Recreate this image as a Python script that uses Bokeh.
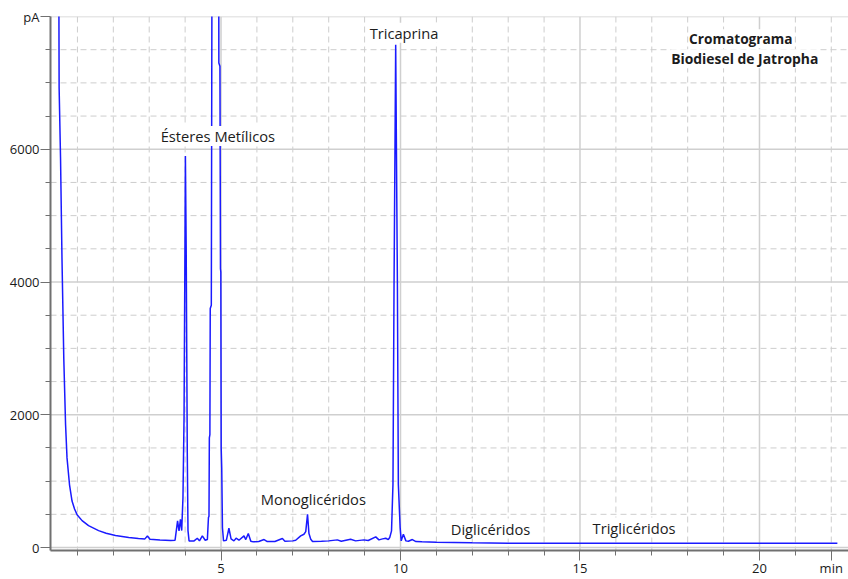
from bokeh.plotting import figure
from bokeh.models import Range1d, FixedTicker, Label, ColumnDataSource, Span
from bokeh.embed import file_html
from bokeh.resources import INLINE

# Retention time (min) and detector signal (pA)
time_min = [0.48, 0.49, 0.53, 0.57, 0.62, 0.67, 0.71, 0.78, 0.85, 0.92, 0.99, 1.13, 1.31, 1.59, 1.80,
            2.06, 2.43, 2.70, 2.88, 2.95, 3.02, 3.30, 3.60, 3.72, 3.79, 3.83, 3.87, 3.905, 3.94, 3.97,
            3.99, 4.008, 4.03, 4.045, 4.06, 4.08, 4.11, 4.25, 4.34, 4.40, 4.48, 4.56, 4.62, 4.65,
            4.665, 4.675, 4.69, 4.70, 4.73, 4.76, 4.93, 4.94, 4.97, 4.985, 4.995, 5.005, 5.02, 5.04,
            5.07, 5.15, 5.22, 5.28, 5.36, 5.42, 5.50, 5.64, 5.69, 5.76, 5.83, 5.90, 6.05, 6.20, 6.29,
            6.50, 6.71, 6.78, 7.00, 7.08, 7.22, 7.31, 7.36, 7.41, 7.45, 7.50, 7.55, 7.80, 8.00, 8.24,
            8.35, 8.61, 8.75, 8.98, 9.10, 9.31, 9.40, 9.50, 9.59, 9.66, 9.70, 9.75, 9.79, 9.82, 9.866,
            9.914, 9.94, 9.99, 10.02, 10.08, 10.15, 10.22, 10.33, 10.43, 10.60, 11.0, 11.5, 12.0,
            13.0, 14.0, 15.0, 16.0, 18.0, 20.0, 22.17]
signal_pA = [9000, 6930, 5850, 4350, 2850, 1850, 1350, 945, 700, 580, 495, 405, 330, 255, 215,
             180, 150, 135, 130, 175, 125, 115, 105, 110, 400, 250, 425, 255, 750, 1950,
             3950, 5900, 4500, 3000, 1450, 255, 100, 100, 140, 100, 175, 110, 120, 450,
             470, 1650, 1700, 3600, 3650, 12000, 12000, 7300, 7250, 4200, 4150, 1500, 1200, 300,
             100, 110, 290, 130, 100, 140, 110, 175, 120, 210, 95, 85, 90, 120, 90,
             90, 135, 95, 100, 110, 175, 200, 240, 500, 210, 125, 90, 95, 100, 115,
             95, 125, 100, 115, 105, 160, 115, 130, 140, 120, 150, 250, 950, 3950, 7575,
             3950, 950, 300, 100, 200, 100, 95, 120, 90, 85, 80, 75, 70,
             65, 65, 65, 65, 65, 65, 65]

x_major = [5, 10, 15, 20]
x_minor = [1, 2, 3, 4, 6, 7, 8, 9, 11, 12, 13, 14, 16, 17, 18, 19, 21, 22]
y_major = [0, 2000, 4000, 6000, 8000]
y_minor = [500, 1000, 1500, 2500, 3000, 3500, 4500, 5000, 5500, 6500, 7000, 7500]

src = ColumnDataSource(data=dict(t=time_min, s=signal_pA))

p = figure(width=848, height=579, x_range=Range1d(0.25, 22.48), y_range=Range1d(-45, 8000),
           output_backend="svg", toolbar_location=None,
           min_border_left=50, min_border_right=0, min_border_top=16, min_border_bottom=24)
p.outline_line_color = None
p.background_fill_color = "white"
p.border_fill_color = "white"
p.xgrid.visible = False
p.ygrid.visible = False

# axes
p.xaxis.ticker = FixedTicker(ticks=x_major + [22], minor_ticks=x_minor)
p.xaxis.major_label_overrides = {22: "min"}
p.yaxis.ticker = FixedTicker(ticks=y_major, minor_ticks=y_minor)
p.yaxis.major_label_overrides = {8000: "pA"}
for ax in (p.xaxis[0], p.yaxis[0]):
    ax.axis_line_color = "#707070"
    ax.axis_line_width = 2
    ax.major_tick_line_color = "#707070"
    ax.minor_tick_line_color = "#707070"
    ax.major_tick_out = 10
    ax.major_tick_in = 0
    ax.minor_tick_out = 5
    ax.minor_tick_in = 0
    ax.major_label_text_font = "Open Sans"
    ax.major_label_text_font_size = "13px"
    ax.major_label_text_color = "#1a1a1a"
p.yaxis.major_label_standoff = 1
p.xaxis.major_label_standoff = -2

# grid lines (solid on major ticks, dashed on minor ticks)
for v in x_major:
    p.add_layout(Span(location=v, dimension="height", line_color="#cfcfcf", line_width=1.5, level="underlay"))
for v in x_minor:
    p.add_layout(Span(location=v, dimension="height", line_color="#cdcdcd", line_width=1,
                      line_dash="6 4", level="underlay"))
for v in y_major:
    p.add_layout(Span(location=v, dimension="width", line_color="#cfcfcf", line_width=1.5, level="underlay"))
for v in y_minor:
    p.add_layout(Span(location=v, dimension="width", line_color="#cdcdcd", line_width=1,
                      line_dash="6 4", level="underlay"))

p.line("t", "s", source=src, line_color="#1a1aff", line_width=1.5)

lab_font = "Open Sans"
def add_label(text, x, y, align="left", bold=False, size="14.7px"):
    p.add_layout(Label(x=x, y=y, text=text, text_font=lab_font, text_font_size=size,
                       text_align=align, text_baseline="middle", text_color="#1c1c1c",
                       text_font_style="bold" if bold else "normal",
                       background_fill_color="white"))

add_label("Ésteres Metílicos", 3.32, 6200)
add_label("Tricaprina", 9.14, 7755)
add_label("Monoglicéridos", 6.11, 735)
add_label("Diglicéridos", 11.40, 285)
add_label("Triglicéridos", 15.35, 300)
add_label("Cromatograma", 19.48, 7665, align="center", bold=True, size="13.7px")
add_label("Biodiesel de Jatropha", 19.59, 7365, align="center", bold=True, size="13.9px")

open("out.html", "w").write(file_html(p, INLINE))
